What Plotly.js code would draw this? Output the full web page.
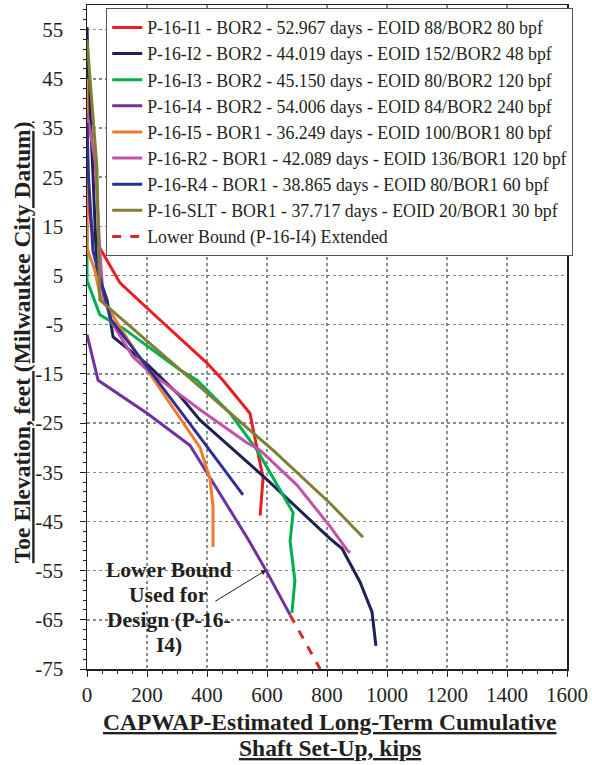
<!DOCTYPE html>
<html><head><meta charset="utf-8">
<script src="https://cdn.plot.ly/plotly-3.0.1.min.js"></script>
<style>html,body{margin:0;padding:0;background:#fff}#chart{width:592px;height:765px}</style>
</head><body><div id="chart"></div>
<script>
// ---- data ----
const seriesNames = [
  "P-16-I1 - BOR2 - 52.967 days - EOID 88/BOR2 80 bpf",
  "P-16-I2 - BOR2 - 44.019 days - EOID 152/BOR2 48 bpf",
  "P-16-I3 - BOR2 - 45.150 days - EOID 80/BOR2 120 bpf",
  "P-16-I4 - BOR2 - 54.006 days - EOID 84/BOR2 240 bpf",
  "P-16-I5 - BOR1 - 36.249 days - EOID 100/BOR1 80 bpf",
  "P-16-R2 - BOR1 - 42.089 days - EOID 136/BOR1 120 bpf",
  "P-16-R4 - BOR1 - 38.865 days - EOID 80/BOR1 60 bpf",
  "P-16-SLT - BOR1 - 37.717 days - EOID 20/BOR1 30 bpf",
  "Lower Bound (P-16-I4) Extended"
];
const i1X = [0, 3, 20, 110, 200, 310, 400, 453, 543, 587, 577];
const i1Y = [45, 20, 13, 3.5, -1.6, -7.8, -12.8, -16.3, -23, -36.2, -43.8];
const i2X = [0, 5, 19, 33, 67, 87, 200, 310, 377, 600, 810, 850, 910, 950, 963];
const i2Y = [55.5, 45, 27, 6, 0, -7.5, -13, -19.5, -24.4, -36.5, -48.5, -50.5, -57.3, -63.4, -70.3];
const i3X = [0, 0, 43, 120, 310, 367, 477, 567, 687, 677, 693, 683];
const i3Y = [16, 4, -3, -5.7, -14.2, -16.3, -23, -30.5, -43.2, -49, -57, -63.6];
const i4X = [0, 37, 200, 310, 343, 537, 600, 677];
const i4Y = [-7, -16.3, -23, -28, -29.5, -48.6, -55.3, -64];
const i5X = [0, 0, 27, 43, 193, 377, 410, 420, 420];
const i5Y = [45, 10.5, 6, 1, -13.5, -30, -36.4, -42, -50.2];
const r2X = [0, 27, 43, 53, 83, 153, 200, 310, 377, 533, 577, 700, 810, 867, 877];
const r2Y = [38, 28.5, 10, 1.4, -4.6, -11.5, -14.2, -19.2, -22.3, -29, -30.5, -37.6, -46, -50.8, -51.4];
const r4X = [0, 5, 20, 50, 80, 150, 217, 310, 377, 520];
const r4Y = [36, 25, 10, 3, -4, -9.5, -15, -22.4, -27.9, -39.6];
const sltX = [0, 33, 43, 377, 620, 810, 920];
const sltY = [53, 27, 0, -17.7, -30.5, -41.3, -48.2];
const lbX = [677, 777];
const lbY = [-64, -75];

const xTickVals = [0, 200, 400, 600, 800, 1000, 1200, 1400, 1600];
const yTickVals = [-75, -65, -55, -45, -35, -25, -15, -5, 5, 15, 25, 35, 45, 55];

const colors = ["#ed1c24", "#1c2251", "#00b050", "#7030a0", "#ee7b30", "#c352ab", "#2e3192", "#808035", "#d42a2a"];
const xs = [i1X, i2X, i3X, i4X, i5X, r2X, r4X, sltX, lbX];
const ys = [i1Y, i2Y, i3Y, i4Y, i5Y, r2Y, r4Y, sltY, lbY];

const FONT = "'Liberation Serif', 'Times New Roman', serif";
const INK = "#231f20";

const traces = xs.map((x, k) => ({
  x: x, y: ys[k], name: seriesNames[k], type: "scatter", mode: "lines",
  line: {color: colors[k], width: 3, dash: k === 8 ? "dash" : "solid"},
  legendgroup: "g" + k
}));

const annotations = [
  {xref: "paper", yref: "paper", x: 0.506, y: -0.0798, xanchor: "center", yanchor: "middle",
   text: "<b><u>CAPWAP-Estimated Long-Term Cumulative</u></b>", showarrow: false,
   font: {family: FONT, size: 23.5, color: INK}},
  {xref: "paper", yref: "paper", x: 0.506, y: -0.119, xanchor: "center", yanchor: "middle",
   text: "<b><u>Shaft Set-Up, kips</u></b>", showarrow: false,
   font: {family: FONT, size: 23.5, color: INK}},
  {xref: "paper", yref: "paper", x: -0.135, y: 0.4925, xanchor: "center", yanchor: "middle",
   text: "<b><u>Toe Elevation, feet (Milwaukee City Datum)</u></b>", showarrow: false, textangle: -90,
   font: {family: FONT, size: 23.5, color: INK}},
  {x: 273, y: -54.9, text: "<b>Lower Bound</b>", showarrow: false, font: {family: FONT, size: 21.5, color: INK}},
  {x: 273, y: -60.0, text: "<b>Used for</b>", showarrow: false, font: {family: FONT, size: 21.5, color: INK}},
  {x: 273, y: -65.1, text: "<b>Design (P-16-</b>", showarrow: false, font: {family: FONT, size: 21.5, color: INK}},
  {x: 273, y: -70.2, text: "<b>I4)</b>", showarrow: false, font: {family: FONT, size: 21.5, color: INK}},
  {x: 597, y: -54.9, ax: 423, ay: -61.4, axref: "x", ayref: "y", text: "", showarrow: true,
   arrowhead: 2, arrowsize: 1, arrowwidth: 1, arrowcolor: INK, standoff: 0, startstandoff: 0}
];

const layout = {
  width: 592, height: 765,
  margin: {l: 87, r: 25, t: 5, b: 96},
  paper_bgcolor: "#fff", plot_bgcolor: "#fff",
  font: {family: FONT, color: INK},
  showlegend: true,
  legend: {x: 0.04, y: 0.995, xanchor: "left", yanchor: "top",
    bgcolor: "#fff", bordercolor: "#555", borderwidth: 1,
    font: {family: FONT, size: 17.8, color: INK}, traceorder: "grouped", tracegroupgap: 0},
  xaxis: {range: [0, 1600], tickvals: xTickVals, ticktext: xTickVals.map(String),
    showgrid: true, gridcolor: "#8a8a8a", griddash: "dot", gridwidth: 1.5,
    showline: true, linecolor: INK, linewidth: 1.5, mirror: true,
    ticks: "outside", ticklen: 6, tickcolor: INK, zeroline: false,
    minor: {dtick: 50, tick0: 0, ticks: "outside", ticklen: 3, tickcolor: INK, showgrid: false},
    tickfont: {family: FONT, size: 21, color: INK}},
  yaxis: {range: [-75, 60], tickvals: yTickVals, ticktext: yTickVals.map(String),
    showgrid: true, gridcolor: "#8a8a8a", griddash: "dot", gridwidth: 1.5,
    showline: true, linecolor: INK, linewidth: 1.5, mirror: true,
    ticks: "outside", ticklen: 6, tickcolor: INK, zeroline: false, ticklabelstandoff: 12,
    minor: {dtick: 2, tick0: -75, ticks: "outside", ticklen: 3, tickcolor: INK, showgrid: false},
    tickfont: {family: FONT, size: 21, color: INK}},
  annotations: annotations
};

Plotly.newPlot("chart", traces, layout, {displayModeBar: false, staticPlot: true});
</script>
</body></html>
